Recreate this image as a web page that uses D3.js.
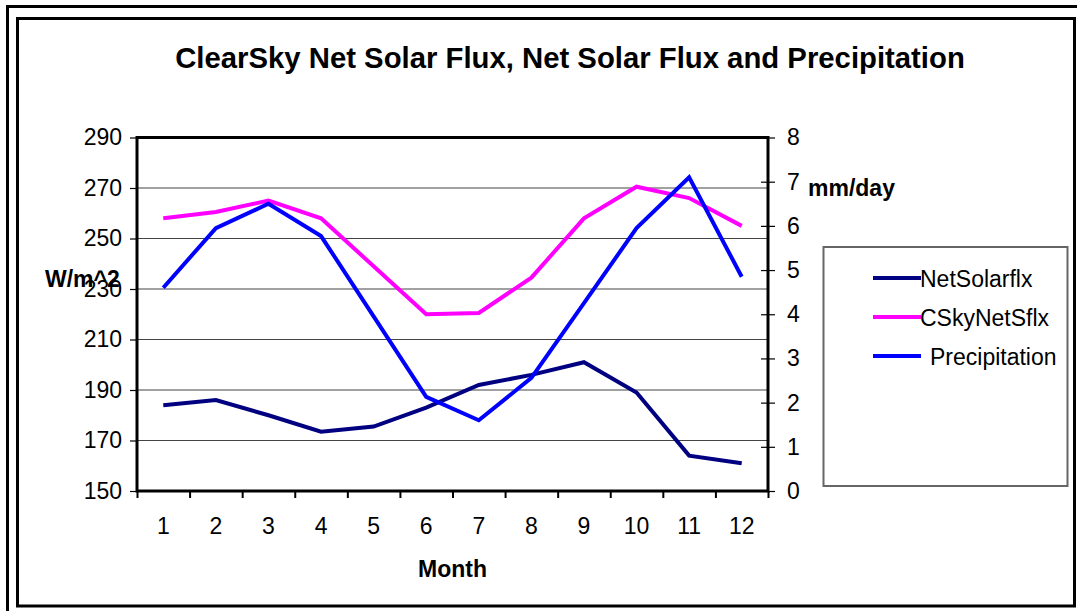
<!DOCTYPE html>
<html>
<head>
<meta charset="utf-8">
<script src="https://cdn.jsdelivr.net/npm/d3@7"></script>
<style>
  html, body { margin: 0; padding: 0; background: #fff; }
  svg { display: block; }
  text { font-family: "Liberation Sans", Arial, sans-serif; fill: #000; }
</style>
</head>
<body>
<svg id="chart" width="1077" height="611"></svg>
<script>
// Monthly values
const months = [1, 2, 3, 4, 5, 6, 7, 8, 9, 10, 11, 12];
const netSolarflx = [184, 186, 180, 173.5, 175.5, 183, 192, 196, 201, 189, 164, 161];
const cSkyNetSflx = [258, 260.5, 265, 258, 239, 220, 220.5, 234.5, 258, 270.5, 266, 255];
const precipitation = [4.6, 5.95, 6.5, 5.77, 3.95, 2.13, 1.6, 2.56, 4.25, 5.95, 7.1, 4.85];

const fluxTicks = [150, 170, 190, 210, 230, 250, 270, 290];
const precipTicks = [0, 1, 2, 3, 4, 5, 6, 7, 8];

const seriesNames = ["NetSolarflx", "CSkyNetSflx", "Precipitation"];
const seriesColors = ["#000080", "#FF00FF", "#0000FF"];

const svg = d3.select("#chart");

// Frames
svg.append("path")
  .attr("d", "M7.5,611 V6.5 H1077")
  .attr("fill", "none").attr("stroke", "#000").attr("stroke-width", 3);
svg.append("rect")
  .attr("x", 17.5).attr("y", 18.5).attr("width", 1057).attr("height", 587.5)
  .attr("fill", "#fff").attr("stroke", "#000").attr("stroke-width", 3);

// Plot area
const plot = { left: 137, right: 768, top: 137.5, bottom: 491 };

const x = d3.scaleBand().domain(months).range([plot.left, plot.right]);
const xEdge = d3.scaleLinear().domain([0, 12]).range([plot.left, plot.right]);
const yL = d3.scaleLinear().domain([150, 290]).range([plot.bottom, plot.top]);
const yR = d3.scaleLinear().domain([0, 8]).range([plot.bottom, plot.top]);

// Gridlines
svg.append("g")
  .selectAll("line")
  .data(fluxTicks.slice(1, -1))
  .join("line")
  .attr("x1", plot.left).attr("x2", plot.right)
  .attr("y1", d => yL(d)).attr("y2", d => yL(d))
  .attr("stroke", "#444").attr("stroke-width", 1.2);

// Left axis
const leftAxis = svg.append("g")
  .attr("transform", `translate(${plot.left},0)`)
  .call(d3.axisLeft(yL).tickValues(fluxTicks).tickSize(7).tickPadding(8));
leftAxis.select(".domain").remove();
leftAxis.selectAll(".tick line").attr("stroke", "#000").attr("stroke-width", 1.2);
leftAxis.selectAll(".tick text")
  .attr("font-size", 23).attr("fill", "#000")
  .style("font-family", '"Liberation Sans", Arial, sans-serif');

// Right axis (ticks cross the axis line)
const rightAxis = svg.append("g")
  .attr("transform", `translate(${plot.right},0)`)
  .call(d3.axisRight(yR).tickValues(precipTicks).tickSize(7).tickPadding(12));
rightAxis.select(".domain").remove();
rightAxis.selectAll(".tick line")
  .attr("x1", -7).attr("x2", 7)
  .attr("stroke", "#000").attr("stroke-width", 1.2);
rightAxis.selectAll(".tick text")
  .attr("font-size", 23).attr("fill", "#000")
  .style("font-family", '"Liberation Sans", Arial, sans-serif');

// Bottom axis: ticks at category boundaries, labels at centres
const edgeAxis = svg.append("g")
  .attr("transform", `translate(0,${plot.bottom})`)
  .call(d3.axisBottom(xEdge).ticks(12).tickSize(7).tickFormat(""));
edgeAxis.select(".domain").remove();
edgeAxis.selectAll(".tick line").attr("stroke", "#000").attr("stroke-width", 2);

const labelAxis = svg.append("g")
  .attr("transform", `translate(0,${plot.bottom})`)
  .call(d3.axisBottom(x).tickSize(0).tickPadding(27));
labelAxis.select(".domain").remove();
labelAxis.selectAll(".tick text")
  .attr("font-size", 23).attr("fill", "#000")
  .style("font-family", '"Liberation Sans", Arial, sans-serif');

// Plot border
svg.append("rect")
  .attr("x", plot.left).attr("y", plot.top)
  .attr("width", plot.right - plot.left).attr("height", plot.bottom - plot.top)
  .attr("fill", "none").attr("stroke", "#000").attr("stroke-width", 3);

// Lines
const cx = d => x(d) + x.bandwidth() / 2;
const lineL = d3.line().x((d, i) => cx(months[i])).y(d => yL(d));
const lineR = d3.line().x((d, i) => cx(months[i])).y(d => yR(d));

svg.append("path").datum(netSolarflx)
  .attr("d", lineL).attr("fill", "none")
  .attr("stroke", seriesColors[0]).attr("stroke-width", 4).attr("stroke-linejoin", "miter");
svg.append("path").datum(cSkyNetSflx)
  .attr("d", lineL).attr("fill", "none")
  .attr("stroke", seriesColors[1]).attr("stroke-width", 4).attr("stroke-linejoin", "miter");
svg.append("path").datum(precipitation)
  .attr("d", lineR).attr("fill", "none")
  .attr("stroke", seriesColors[2]).attr("stroke-width", 4).attr("stroke-linejoin", "miter");

// Titles
svg.append("text")
  .attr("x", 570).attr("y", 68)
  .attr("text-anchor", "middle")
  .attr("font-size", 29.3).attr("font-weight", "bold")
  .text("ClearSky Net Solar Flux, Net Solar Flux and Precipitation");

svg.append("text")
  .attr("x", 45).attr("y", 287)
  .attr("font-size", 23).attr("font-weight", "bold")
  .text("W/m^2");

svg.append("text")
  .attr("x", 808).attr("y", 196)
  .attr("font-size", 23).attr("font-weight", "bold")
  .text("mm/day");

svg.append("text")
  .attr("x", (plot.left + plot.right) / 2).attr("y", 577)
  .attr("text-anchor", "middle")
  .attr("font-size", 23).attr("font-weight", "bold")
  .text("Month");

// Legend
const legend = svg.append("g");
legend.append("rect")
  .attr("x", 823.5).attr("y", 247).attr("width", 244).attr("height", 239)
  .attr("fill", "#fff").attr("stroke", "#666").attr("stroke-width", 2);

const legendY = [278, 317, 356];
const legendTextX = [920, 920, 930];
seriesNames.forEach((name, i) => {
  legend.append("line")
    .attr("x1", 873).attr("x2", 921)
    .attr("y1", legendY[i]).attr("y2", legendY[i])
    .attr("stroke", seriesColors[i]).attr("stroke-width", 4);
  legend.append("text")
    .attr("x", legendTextX[i]).attr("y", legendY[i] + 8.5)
    .attr("font-size", 23)
    .text(name);
});
</script>
</body>
</html>
